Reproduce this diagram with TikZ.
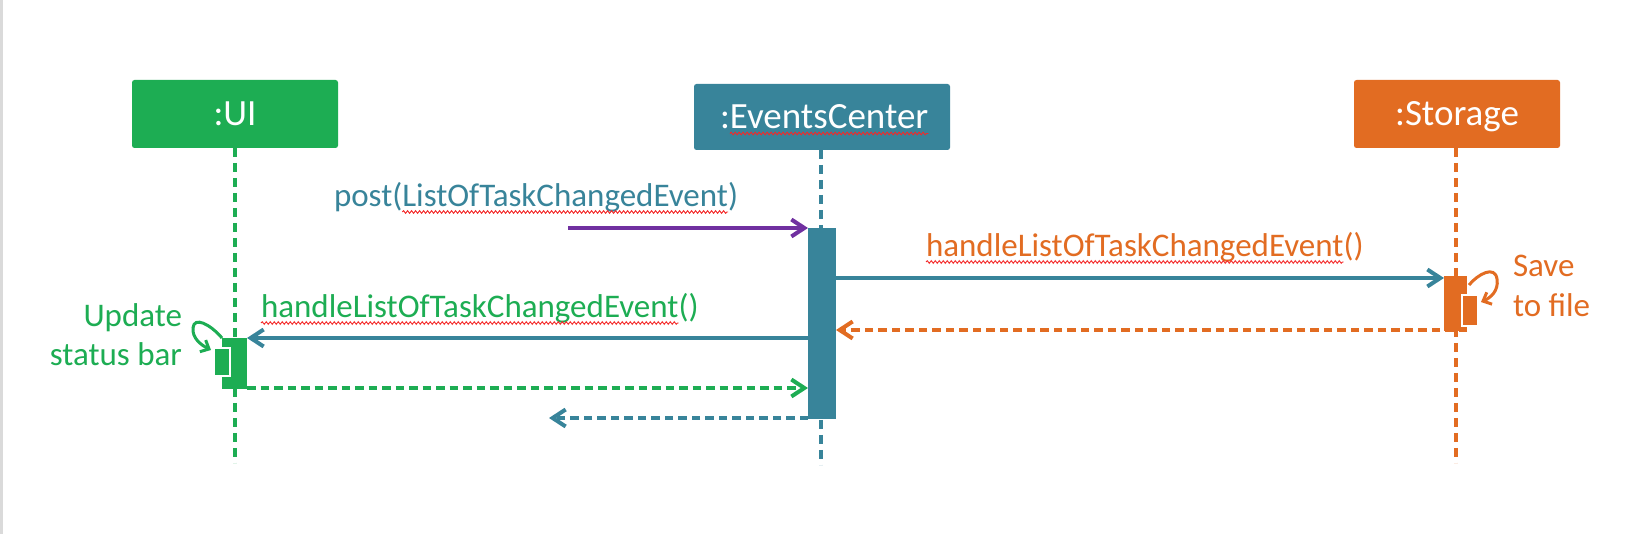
\documentclass[tikz,border=0pt]{standalone}
\usepackage{fontspec}
\setmainfont{Carlito}
\usetikzlibrary{arrows.meta,decorations.pathmorphing}
\definecolor{umlgreen}{HTML}{1DAD53}
\definecolor{umlteal}{HTML}{38849A}
\definecolor{umlorange}{HTML}{E26C22}
\definecolor{umlpurple}{HTML}{7030A0}
\definecolor{spellred}{HTML}{F42828}
\definecolor{edgegray}{HTML}{DADADA}
\newcommand\lblfont{\fontsize{33pt}{40pt}\selectfont}
\newcommand\headfont{\fontsize{37pt}{40pt}\selectfont}
\begin{document}
\begin{tikzpicture}[x=1pt,y=-1pt,
  headbox/.style={rectangle,rounded corners=2.5pt,inner sep=0pt,outer sep=0pt,minimum height=68pt},
  headtext/.style={inner sep=0pt,outer sep=0pt,text=white,font=\headfont,anchor=base},
  lifeline/.style={line width=4pt,dash pattern=on 9.3pt off 5.7pt},
  actbox/.style={rectangle,inner sep=0pt,outer sep=0pt},
  subact/.style={rectangle,inner sep=0pt,outer sep=0pt,draw=white,line width=1.5pt},
  msg/.style={line width=4pt,-{Straight Barb[length=13pt,width=17pt]}},
  retmsg/.style={msg,dash pattern=on 8.5pt off 5pt},
  selfmsg/.style={line width=3pt,-{Straight Barb[length=7pt,width=13pt]}},
  lbl/.style={inner sep=0pt,outer sep=0pt,anchor=base west,font=\lblfont},
  lblr/.style={lbl,anchor=base east},
  wavy/.style={spellred,line width=0.9pt,decorate,decoration={snake,amplitude=1.3pt,segment length=4pt}}]
\fill[white] (0,0) rectangle (1634,534);
\useasboundingbox (0,0) rectangle (1634,534);
\fill[edgegray] (0,0) rectangle (2.5,534);
% heads
\node[headbox,fill=umlgreen,minimum width=206pt] (uibox) at (235,114) {};
\node[headbox,fill=umlteal,minimum width=256pt,minimum height=66pt] (ecbox) at (822,117) {};
\node[headbox,fill=umlorange,minimum width=206pt] (stbox) at (1457,114) {};
\node[headtext] (uiname) at (235,126) {:UI};
\node[headtext,anchor=base west] (eccolon) at (720,129) {:};
\node[headtext,anchor=base west] (ecname) at (eccolon.base east) {EventsCenter};
\node[headtext] (stname) at (1457,126) {:Storage};
\draw[wavy] ([yshift=-4.5pt]ecname.base west) -- ([yshift=-4.5pt]ecname.base east);
% lifeline ends
\coordinate (uiend) at (235,463);
\coordinate (ecend) at (821,465);
\coordinate (stend) at (1456,463);
\draw[lifeline,umlgreen] (uibox.south) -- (uiend);
\draw[lifeline,umlteal] (ecbox.south -| ecend) -- (ecend);
\draw[lifeline,umlorange] (stbox.south -| stend) -- (stend);
% activations
\node[actbox,fill=umlgreen,minimum width=25pt,minimum height=51pt] (uiact) at (234.5,363.5) {};
\node[subact,fill=umlgreen,minimum width=16pt,minimum height=28pt] (uisub) at (222,362) {};
\node[actbox,fill=umlteal,minimum width=28pt,minimum height=191pt] (ecact) at (822,323.5) {};
\node[actbox,fill=umlorange,minimum width=23pt,minimum height=55pt] (stact) at (1455.5,303.5) {};
\node[subact,fill=umlorange,minimum width=16pt,minimum height=31pt] (stsub) at (1470,310.5) {};
% message levels
\coordinate (postsrc) at (568,228);
\coordinate (y2) at (0,278);
\coordinate (y3) at (0,330);
\coordinate (y4) at (0,338);
\coordinate (y5) at (0,388);
\coordinate (y6) at (0,418);
\coordinate (retend) at (549,418);
% messages
\draw[msg,umlpurple] (postsrc) -- (ecact.north west);
\draw[msg,umlteal] (ecact.east |- y2) -- (stact.west |- y2);
\draw[retmsg,umlorange] (stact.east |- y3) -- (ecact.east |- y3);
\draw[msg,umlteal] (ecact.west |- y4) -- (uiact.east |- y4);
\draw[retmsg,umlgreen] (uiact.east |- y5) -- (ecact.west |- y5);
\draw[retmsg,umlteal] (ecact.west |- y6) -- (retend);
% self calls
\coordinate (uitip) at (211,350);
\draw[selfmsg,umlgreen] (uiact.north west) .. controls (210,324) and (194,316) .. (193,328) .. controls (192,338) and (201,345) .. (uitip);
\coordinate (ststart) at (1469,285);
\coordinate (sttip) at (1481,302);
\draw[selfmsg,umlorange] (ststart) .. controls (1478,274) and (1495,265) .. (1497,279) .. controls (1499,291) and (1490,298) .. (sttip);
% labels
\node[lbl,text=umlteal] (postopen) at (334,207) {post(};
\node[lbl,text=umlteal] (postword) at (postopen.base east) {ListOfTaskChangedEvent};
\node[lbl,text=umlteal] (postclose) at (postword.base east) {)};
\draw[wavy] ([yshift=-5pt]postword.base west) -- ([yshift=-5pt]postword.base east);
\node[lbl,text=umlorange] (stword) at (926,257) {handleListOfTaskChangedEvent};
\node[lbl,text=umlorange] (stparen) at (stword.base east) {()};
\draw[wavy] ([yshift=-5pt]stword.base west) -- ([yshift=-5pt]stword.base east);
\node[lbl,text=umlgreen] (uiword) at (261,318) {handleListOfTaskChangedEvent};
\node[lbl,text=umlgreen] (uiparen) at (uiword.base east) {()};
\draw[wavy] ([yshift=-5pt]uiword.base west) -- ([yshift=-5pt]uiword.base east);
\node[lblr,text=umlgreen] (upd1) at (182,327) {Update};
\node[lblr,text=umlgreen] (upd2) at (182,366) {status bar};
\node[lbl,text=umlorange] (save1) at (1513,277) {Save};
\node[lbl,text=umlorange] (save2) at (1513,317) {to file};
\end{tikzpicture}
\end{document}
